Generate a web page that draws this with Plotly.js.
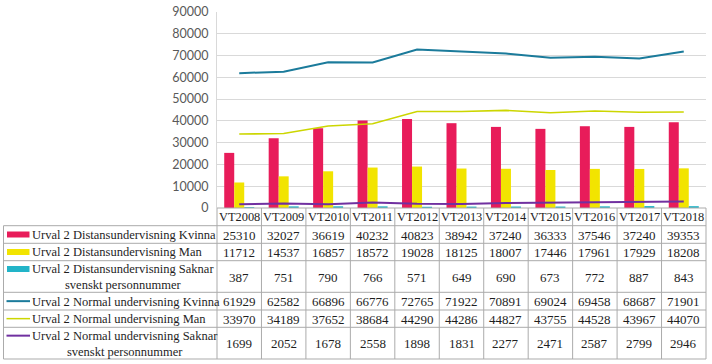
<!DOCTYPE html>
<html><head><meta charset="utf-8">
<script src="https://cdn.plot.ly/plotly-3.0.1.min.js"></script>
<style>html,body{margin:0;padding:0;background:#fff;}</style>
</head><body>
<div id="chart" style="width:712px;height:364px"></div>
<script>
const categories = ['VT2008','VT2009','VT2010','VT2011','VT2012','VT2013','VT2014','VT2015','VT2016','VT2017','VT2018'];
const distKvinna = [25310, 32027, 36619, 40232, 40823, 38942, 37240, 36333, 37546, 37240, 39353];
const distMan    = [11712, 14537, 16857, 18572, 19028, 18125, 18007, 17446, 17961, 17929, 18208];
const distSaknar = [387, 751, 790, 766, 571, 649, 690, 673, 772, 887, 843];
const normKvinna = [61929, 62582, 66896, 66776, 72765, 71922, 70891, 69024, 69458, 68687, 71901];
const normMan    = [33970, 34189, 37652, 38684, 44290, 44286, 44827, 43755, 44528, 43967, 44070];
const normSaknar = [1699, 2052, 1678, 2558, 1898, 1831, 2277, 2471, 2587, 2799, 2946];
const seriesNames = [
  ['Urval 2 Distansundervisning Kvinna'],
  ['Urval 2 Distansundervisning Man'],
  ['Urval 2 Distansundervisning Saknar', 'svenskt personnummer'],
  ['Urval 2 Normal undervisning Kvinna'],
  ['Urval 2 Normal undervisning Man'],
  ['Urval 2 Normal undervisning Saknar', 'svenskt personnummer']
];
const yTicks = [0,10000,20000,30000,40000,50000,60000,70000,80000,90000];

const colors = ['#E81C5A', '#F2E400', '#22B4C8', '#1B7B9B', '#CCD600', '#7030A0'];
const kinds = ['bar','bar','bar','line','line','line'];
const values = [distKvinna, distMan, distSaknar, normKvinna, normMan, normSaknar];

// layout geometry (pixels)
const W = 712, H = 364, L = 217, R = 706, T = 12, B = 208;
const xp = px => (px - L) / (R - L);
const yp = py => (B - py) / (B - T);
const rowEdges = [225.7, 243.3, 260.7, 292.3, 310, 327.3, 359];
const headerTop = B;
const tableLeft = 3.5;
const border = '#ABABAB';
const serif = '"Liberation Serif", "DejaVu Serif", serif';
const tFont = {family: serif, size: 12.5, color: '#1e1e1e'};
const nFont = {family: serif, size: 13, color: '#1e1e1e'};
const hFont = {family: serif, size: 12.4, color: '#1e1e1e'};

const traces = values.map((v, i) => kinds[i] === 'bar' ? {
  type: 'bar', x: categories, y: v, name: seriesNames[i].join(' '),
  marker: {color: colors[i], line: {width: 0}}, hoverinfo: 'skip'
} : {
  type: 'scatter', mode: 'lines', x: categories, y: v, name: seriesNames[i].join(' '),
  line: {color: colors[i], width: i === 4 ? 1.6 : 2}, hoverinfo: 'skip'
});

const shapes = [];
const annotations = [];
shapes.push({type:'line', xref:'paper', yref:'paper', x0: xp(L), x1: xp(R), y0: yp(headerTop), y1: yp(headerTop), line:{color:border, width:1}});
rowEdges.forEach(e => shapes.push({type:'line', xref:'paper', yref:'paper', x0: xp(tableLeft), x1: xp(R), y0: yp(e), y1: yp(e), line:{color:border, width:1}}));
shapes.push({type:'line', xref:'paper', yref:'paper', x0: xp(tableLeft), x1: xp(tableLeft), y0: yp(rowEdges[0]), y1: yp(rowEdges[rowEdges.length-1]), line:{color:border, width:1}});
for (let k = 0; k <= categories.length; k++) {
  const x = k / categories.length;
  shapes.push({type:'line', xref:'paper', yref:'paper', x0: x, x1: x, y0: yp(headerTop), y1: yp(rowEdges[rowEdges.length-1]), line:{color:border, width:1}});
}
categories.forEach(c => annotations.push({xref:'x', yref:'paper', x: c, y: yp((headerTop + rowEdges[0]) / 2 + 0.5), text: c, showarrow:false, xanchor:'center', yanchor:'middle', font: hFont}));
let rowTop = rowEdges[0];
values.forEach((v, i) => {
  const rowBottom = rowEdges[i + 1];
  const mid = (rowTop + rowBottom) / 2;
  const twoLine = seriesNames[i].length > 1;
  if (kinds[i] === 'bar') {
    const ky = twoLine ? mid - 7.5 : mid;
    shapes.push({type:'rect', xref:'paper', yref:'paper', x0: xp(7), x1: xp(29.5), y0: yp(ky - 3), y1: yp(ky + 3), fillcolor: colors[i], line:{width:0}});
  } else {
    const ky = twoLine ? mid - 7.5 : mid;
    shapes.push({type:'line', xref:'paper', yref:'paper', x0: xp(6.5), x1: xp(30), y0: yp(ky), y1: yp(ky), line:{color: colors[i], width: i === 4 ? 1.5 : 2}});
  }
  annotations.push({xref:'paper', yref:'paper', x: xp(31), y: yp(mid + 0.5), text: seriesNames[i].join('<br>'), align: 'center',
    showarrow:false, xanchor:'left', yanchor:'middle', borderpad: 0, font: tFont});
  v.forEach((val, j) => annotations.push({xref:'x', yref:'paper', x: categories[j], y: yp(mid + 0.5), text: String(val), showarrow:false, xanchor:'center', yanchor:'middle', font: nFont}));
  rowTop = rowBottom;
});

const layout = {
  width: W, height: H,
  margin: {l: L, r: W - R, t: T, b: H - B, pad: 0},
  paper_bgcolor: '#fff', plot_bgcolor: '#fff',
  showlegend: false,
  barmode: 'group', bargap: 0.325, bargroupgap: 0,
  xaxis: {type: 'category', range: [-0.5, categories.length - 0.5], showticklabels: false, ticks: '', showgrid: false, zeroline: false, showline: false, fixedrange: true},
  yaxis: {range: [0, 90000], tickvals: yTicks, ticktext: yTicks.map(String), showgrid: true, gridcolor: '#D9D9D9', gridwidth: 1,
    zeroline: false, showline: true, linecolor: '#D9D9D9', linewidth: 1, ticks: 'outside', ticklen: 5, tickcolor: 'rgba(0,0,0,0)',
    tickfont: {family: 'Lato, "Liberation Sans", sans-serif', size: 12.5, color: '#595959'}, fixedrange: true},
  shapes: shapes,
  annotations: annotations
};
Plotly.newPlot('chart', traces, layout, {displayModeBar: false, staticPlot: true});
</script>
</body></html>
